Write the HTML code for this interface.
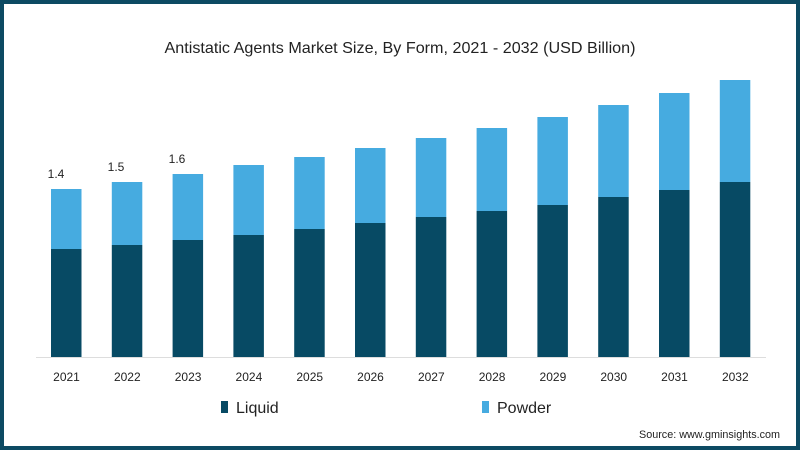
<!DOCTYPE html>
<html><head><meta charset="utf-8"><style>
html,body{margin:0;padding:0;background:#fff}
svg{display:block}
text{font-family:"Liberation Sans",sans-serif;fill:#222}
</style></head><body>
<svg width="800" height="450" viewBox="0 0 800 450" xmlns="http://www.w3.org/2000/svg">
<rect x="2" y="2" width="796" height="446" fill="#fff" stroke="#0d4a63" stroke-width="4"/>
<text x="400" y="53" text-anchor="middle" font-size="16" textLength="471" lengthAdjust="spacingAndGlyphs">Antistatic Agents Market Size, By Form, 2021 - 2032 (USD Billion)</text>
<line x1="36" y1="357.5" x2="766" y2="357.5" stroke="#ddd" stroke-width="1"/>
<g id="bars"></g>
<g font-size="12">
<text x="56" y="178" text-anchor="middle">1.4</text>
<text x="116" y="171" text-anchor="middle">1.5</text>
<text x="177" y="163" text-anchor="middle">1.6</text>
</g>
<g font-size="12" text-anchor="middle" id="years"></g>
<rect x="221" y="401" width="7" height="12" fill="#074a64"/>
<text x="236" y="413" font-size="16">Liquid</text>
<rect x="482" y="401" width="7" height="12" fill="#46abe0"/>
<text x="497" y="413" font-size="16">Powder</text>
<text x="780" y="438" font-size="11" text-anchor="end" textLength="141" lengthAdjust="spacingAndGlyphs">Source: www.gminsights.com</text>
<script>
var tops=[189,182,174,165,157,148,138,128,117,105,93,80];
var splits=[249,245,240,235,229,223,217,211,205,197,190,182];
var b=document.getElementById('bars'),y=document.getElementById('years'),ns='http://www.w3.org/2000/svg';
for(var i=0;i<12;i++){var x=51+i*60.8;
var r1=document.createElementNS(ns,'rect');r1.setAttribute('x',x);r1.setAttribute('y',tops[i]);r1.setAttribute('width',30.5);r1.setAttribute('height',splits[i]-tops[i]);r1.setAttribute('fill','#46abe0');b.appendChild(r1);
var r2=document.createElementNS(ns,'rect');r2.setAttribute('x',x);r2.setAttribute('y',splits[i]);r2.setAttribute('width',30.5);r2.setAttribute('height',357-splits[i]);r2.setAttribute('fill','#074a64');b.appendChild(r2);
var t=document.createElementNS(ns,'text');t.setAttribute('x',x+15.5);t.setAttribute('y',381);t.textContent=2021+i;y.appendChild(t);}
</script>
</svg>
</body></html>
